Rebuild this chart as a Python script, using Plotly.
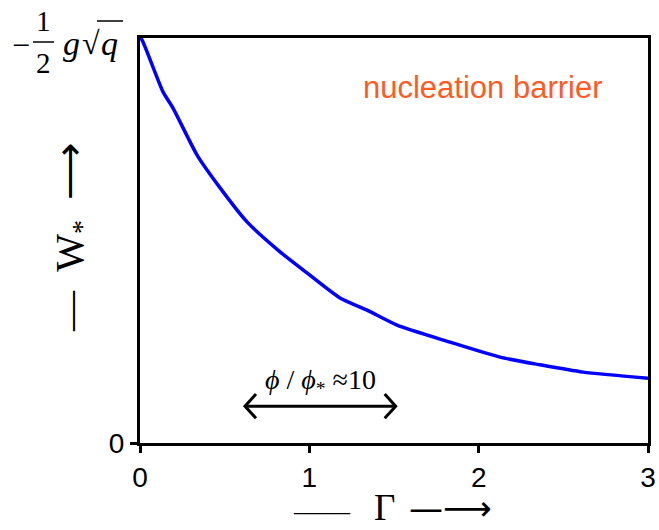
import plotly.graph_objects as go

# Data
gamma = [0.0, 0.012, 0.136, 0.195, 0.337, 0.473, 0.632, 0.827, 0.986, 1.181,
         1.341, 1.518, 1.831, 2.126, 2.363, 2.617, 3.0]
w_star = [1.0, 0.995, 0.867, 0.827, 0.711, 0.630, 0.546, 0.472, 0.420, 0.358,
          0.328, 0.291, 0.249, 0.212, 0.193, 0.175, 0.160]
x_ticks = [0, 1, 2, 3]
x_ticklabels = ["0", "1", "2", "3"]
y_ticks = [0]
y_ticklabels = ["0"]

arrow_x = [0.62, 1.51]
arrow_y = 0.091

L, R, T, B = 140, 11, 38, 87
W, H = 659, 530
PW, PH = W - L - R, H - T - B

def px(xp):
    return (xp - L) / PW

def py(yp):
    return (H - B - yp) / PH

fig = go.Figure()
fig.add_trace(go.Scatter(x=gamma, y=w_star, mode="lines",
                         line=dict(color="#0000FF", width=3.5, shape="spline", smoothing=0.6),
                         showlegend=False, hoverinfo="skip"))

serif = "Liberation Serif, Times New Roman, serif"
sans = "Liberation Sans, Arial, sans-serif"
dejavu = "DejaVu Sans"

fig.update_layout(
    width=W, height=H, margin=dict(l=L, r=R, t=T, b=B, autoexpand=False),
    paper_bgcolor="white", plot_bgcolor="white",
    xaxis=dict(range=[0, 3], tickvals=x_ticks, ticktext=x_ticklabels, automargin=False,
               showline=True, mirror=True, linecolor="black", linewidth=3,
               ticks="outside", ticklen=7, tickwidth=3, tickcolor="black",
               showgrid=False, zeroline=False,
               tickfont=dict(family=sans, size=28, color="black")),
    yaxis=dict(range=[0, 1], tickvals=y_ticks, ticktext=y_ticklabels, automargin=False,
               showline=True, mirror=True, linecolor="black", linewidth=3,
               ticks="outside", ticklen=7, tickwidth=3, tickcolor="black",
               showgrid=False, zeroline=False,
               tickfont=dict(family=sans, size=28, color="black")),
)

def note(text, x, y, size, family=serif, color="black", **kw):
    return dict(text=text, x=px(x), y=py(y), xref="paper", yref="paper",
                xanchor="center", yanchor="middle", showarrow=False,
                font=dict(family=family, size=size, color=color), **kw)

ann = [
    # x-axis title pieces
    note("——", 322, 510, 28),
    note("Γ", 384, 507, 37),
    note("—⟶", 450, 508, 34, family=dejavu),
    # y-axis title
    note("—  W<sub>*</sub>  ⟶", 72, 238, 40, textangle=-90),
    # top y label
    note("−", 21, 45, 32),
    note("1", 43, 21, 29),
    note("2", 43, 63, 29),
    note("<i>g</i>", 71, 43, 34),
    note("√", 91, 43, 32),
    note("<i>q</i>", 109, 43, 34),
    note("nucleation barrier", 483, 87, 31, family=sans, color="#FF5A23"),
]
ann.append(dict(text="<i>ϕ</i> / <i>ϕ</i><sub>*</sub> ≈10", x=sum(arrow_x) / 2, y=arrow_y,
                xref="x", yref="y", yshift=25, xanchor="center", yanchor="middle",
                showarrow=False, font=dict(family=serif, size=28, color="black")))
fig.update_layout(annotations=ann)

shapes = [
    dict(type="line", xref="paper", yref="paper", x0=px(33), x1=px(54), y0=py(42), y1=py(42),
         line=dict(color="black", width=1.5)),
    dict(type="line", xref="paper", yref="paper", x0=px(97), x1=px(123), y0=py(21), y1=py(21),
         line=dict(color="black", width=1.5)),
]
# double arrow
dx, dy = 0.065, 0.03
shapes.append(dict(type="line", xref="x", yref="y", x0=arrow_x[0], x1=arrow_x[1],
                   y0=arrow_y, y1=arrow_y, line=dict(color="black", width=3)))
shapes.append(dict(type="path", xref="x", yref="y",
                   path=f"M {arrow_x[0]+dx} {arrow_y+dy} L {arrow_x[0]} {arrow_y} L {arrow_x[0]+dx} {arrow_y-dy}",
                   line=dict(color="black", width=3)))
shapes.append(dict(type="path", xref="x", yref="y",
                   path=f"M {arrow_x[1]-dx} {arrow_y+dy} L {arrow_x[1]} {arrow_y} L {arrow_x[1]-dx} {arrow_y-dy}",
                   line=dict(color="black", width=3)))
fig.update_layout(shapes=shapes)

fig.write_html("out.html")
